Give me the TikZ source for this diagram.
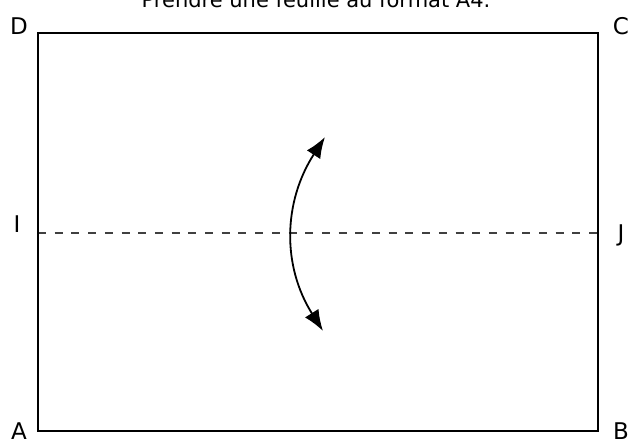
\documentclass[tikz,border=0pt]{standalone}
\usepackage{fontspec}
\setmainfont{DejaVu Sans}
\usetikzlibrary{arrows.meta}
\begin{document}
\begin{tikzpicture}[x=1pt,y=-1pt,
  lbl/.style={font=\fontsize{23}{25}\selectfont, inner sep=0pt},
  sheet/.style={line width=2.6pt},
  foldline/.style={dash pattern=on 8pt off 8.7pt, line width=1.2pt, color=black!75},
  flip/.style={line width=1.8pt, {Latex[length=21pt,width=16pt]}-{Latex[length=21pt,width=16pt]}}]
\useasboundingbox (0,0) rectangle (631,443);
\coordinate (A) at (38,431);
\coordinate (B) at (598,431);
\coordinate (C) at (598,33);
\coordinate (D) at (38,33);
\coordinate (I) at (38,233);
\coordinate (J) at (598,233);
\coordinate (top) at (325,137);
\coordinate (bot) at (323,331);
\draw[foldline] (I) -- (J);
\draw[sheet] (A) -- (B) -- (C) -- (D) -- cycle;
\draw[flip] (top) .. controls (283,202) and (282,266) .. (bot);
\node[lbl, anchor=base] (title) at (316,8) {\fontsize{21}{23}\selectfont Prendre une feuille au format A4.};
\node[lbl, anchor=base] (lD) at (19,35) {D};
\node[lbl, anchor=base] (lC) at (621,35) {C};
\node[lbl, anchor=base] (lI) at (17,233) {I};
\node[lbl, anchor=base] (lJ) at (621,242) {J};
\node[lbl, anchor=base] (lA) at (19,439) {A};
\node[lbl, anchor=base] (lB) at (621,439) {B};
\end{tikzpicture}
\end{document}
